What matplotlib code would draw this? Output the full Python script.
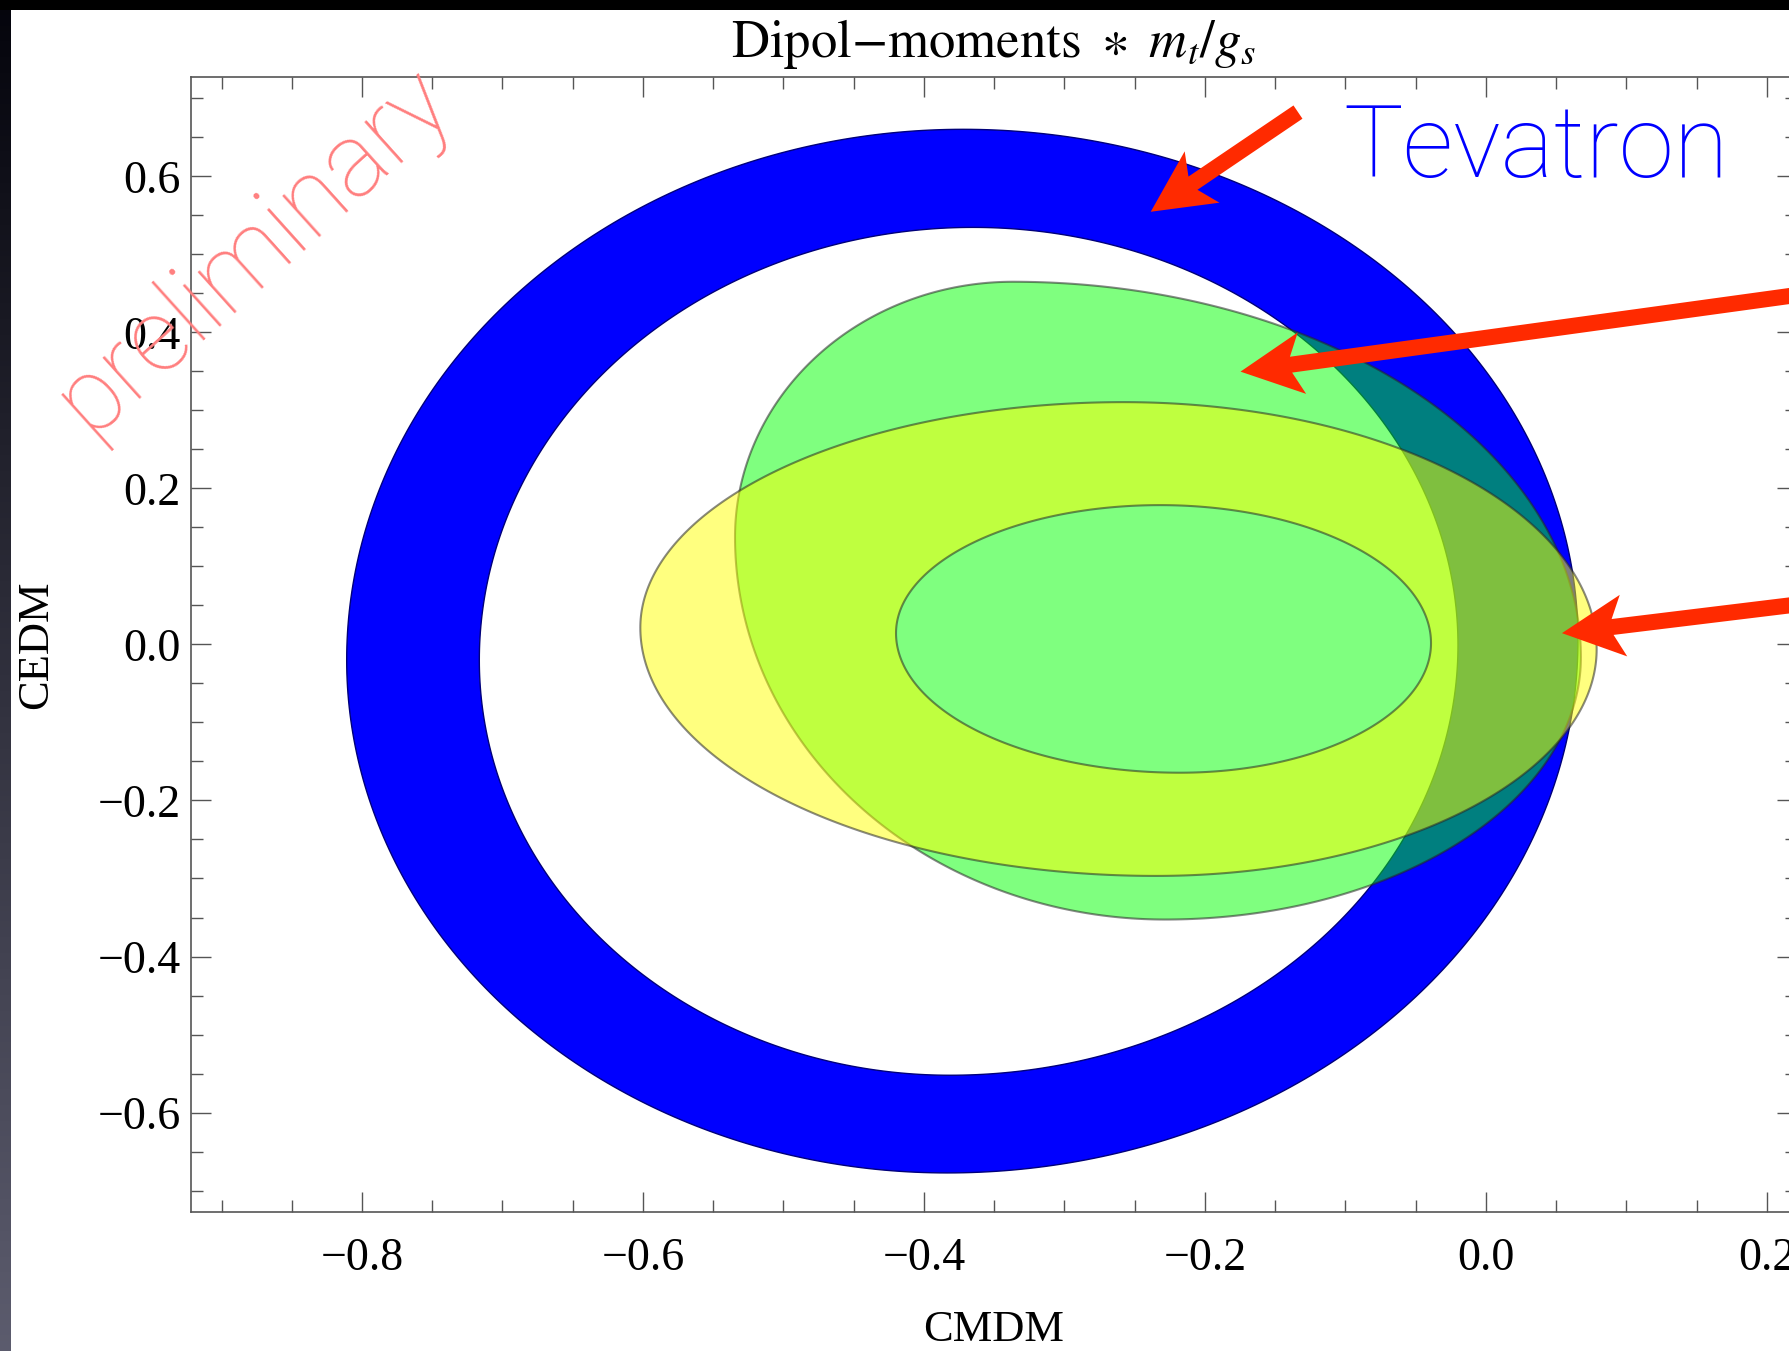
import numpy as np
import matplotlib
import matplotlib.pyplot as plt
from matplotlib.path import Path
from matplotlib.patches import PathPatch, Polygon, Rectangle
from matplotlib.transforms import IdentityTransform
from matplotlib.ticker import MultipleLocator, FuncFormatter

plt.rcParams['mathtext.fontset'] = 'stix'

# extreme points of every boundary, in the order right, top, left, bottom (CMDM, CEDM)
tev_outer = [(0.0655, 0.0055), (-0.3722, 0.6603), (-0.8109, -0.0201), (-0.3836, -0.6774)]
tev_inner = [(-0.0199, -0.0009), (-0.3651, 0.5346), (-0.7165, -0.0201), (-0.3815, -0.5522)]
green_band = [(0.0676, -0.0163), (-0.3367, 0.4649), (-0.5345, 0.1376), (-0.2285, -0.3526)]
yellow_outer = [(0.0788, -0.0060), (-0.2580, 0.3106), (-0.6019, 0.0215), (-0.2349, -0.2967)]
yellow_inner = [(-0.0391, 0.0017), (-0.2320, 0.1786), (-0.4199, 0.0145), (-0.2178, -0.1644)]

# arrows: (tip, tail) in data coordinates
arrow_tips = [(-0.2386, 0.5546), (-0.1747, 0.3497), (0.0541, 0.0145)]
arrow_tails = [(-0.1338, 0.6824), (0.2235, 0.4485), (0.2235, 0.0517)]

xlim = (-0.922, 0.2214)
ylim = (-0.728, 0.728)

W, H = 1790, 1351


def closed_curve(pts, n=120):
    # four elliptic quarter arcs joining the extreme points
    (xr, yr), (xt, yt), (xl, yl), (xb, yb) = pts
    t1 = np.linspace(0, np.pi / 2, n, endpoint=False)
    t2 = np.linspace(np.pi / 2, np.pi, n, endpoint=False)
    t3 = np.linspace(np.pi, 1.5 * np.pi, n, endpoint=False)
    t4 = np.linspace(1.5 * np.pi, 2 * np.pi, n, endpoint=False)
    x = np.concatenate([xt + (xr - xt) * np.cos(t1), xt + (xt - xl) * np.cos(t2),
                        xb + (xb - xl) * np.cos(t3), xb + (xr - xb) * np.cos(t4)])
    y = np.concatenate([yr + (yt - yr) * np.sin(t1), yl + (yt - yl) * np.sin(t2),
                        yl + (yl - yb) * np.sin(t3), yr + (yr - yb) * np.sin(t4)])
    return np.column_stack([x, y])


def region_path(outer, inner=None):
    loops = [closed_curve(outer)]
    if inner is not None:
        loops.append(closed_curve(inner)[::-1])
    verts, codes = [], []
    for lp in loops:
        verts.extend(lp)
        verts.append(lp[0])
        codes.extend([Path.MOVETO] + [Path.LINETO] * (len(lp) - 1) + [Path.CLOSEPOLY])
    return Path(np.array(verts), codes)


def red_arrow(fig, ax, tip, tail, color='#ff2a00'):
    p0 = ax.transData.transform(tip)
    p1 = ax.transData.transform(tail)
    u = (p1 - p0) / np.hypot(*(p1 - p0))
    nv = np.array([-u[1], u[0]])
    hw = 8.0
    pts = [p0,
           p0 + 62 * u + 31 * nv,
           p0 + 51 * u + hw * nv,
           p1 + hw * nv,
           p1 - hw * nv,
           p0 + 51 * u - hw * nv,
           p0 + 62 * u - 31 * nv]
    fig.add_artist(Polygon(pts, closed=True, transform=IdentityTransform(),
                           facecolor=color, edgecolor='none', zorder=5))


def tick_fmt(v, pos):
    if abs(v) < 1e-9:
        v = 0.0
    return f"{v:.1f}".replace('-', '\u2212')


fig = plt.figure(figsize=(W / 100, H / 100), dpi=100)
fig.patch.set_facecolor('white')

ax = fig.add_axes([190.6 / W, (H - 1212.4) / H, (1797 - 190.6) / W, (1212.4 - 76.5) / H])
ax.set_xlim(*xlim)
ax.set_ylim(*ylim)

edge = (0.15, 0.15, 0.15, 0.55)
ax.add_patch(PathPatch(region_path(tev_outer, tev_inner), facecolor=(0, 0, 1),
                       edgecolor='#00007a', lw=1.0, zorder=2))
ax.add_patch(PathPatch(region_path(green_band), facecolor=(0, 1, 0, 0.5),
                       edgecolor=edge, lw=1.5, zorder=3))
ax.add_patch(PathPatch(region_path(yellow_outer, yellow_inner), facecolor=(1, 1, 0, 0.5),
                       edgecolor=edge, lw=1.5, zorder=4))

ax.xaxis.set_major_locator(MultipleLocator(0.2))
ax.xaxis.set_minor_locator(MultipleLocator(0.05))
ax.yaxis.set_major_locator(MultipleLocator(0.2))
ax.yaxis.set_minor_locator(MultipleLocator(0.05))
ax.xaxis.set_major_formatter(FuncFormatter(tick_fmt))
ax.yaxis.set_major_formatter(FuncFormatter(tick_fmt))
ax.tick_params(which='both', direction='in', top=True, right=True,
               color='#555555', labelcolor='black', width=1.0)
ax.tick_params(which='major', length=14.4)
ax.tick_params(which='minor', length=8.6)
ax.tick_params(axis='x', pad=18)
ax.tick_params(axis='y', pad=7)
for lab in ax.get_xticklabels() + ax.get_yticklabels():
    lab.set_fontfamily('Liberation Serif')
    lab.set_fontsize(33)
for sp in ax.spines.values():
    sp.set_color('#555555')
    sp.set_linewidth(1.2)

cx = 993.8 / W
fig.text(cx, 1 - 57 / H, r'$\mathrm{Dipol}{-}\mathrm{moments}\ \ast\ m_t/g_s$',
         ha='center', va='baseline', fontsize=38)
fig.text(cx, 10 / H, 'CMDM', ha='center', va='baseline', fontsize=32,
         family='Liberation Serif')
fig.text(36.5 / W, 1 - 645 / H, 'CEDM', rotation=90, ha='center', va='center',
         fontsize=32, family='Liberation Serif')

fig.text(1343.7 / W, 1 - 177 / H, 'Tevatron', ha='left', va='baseline', fontsize=72,
         family=['Roboto', 'Lato'], fontweight='light', color='#0000ff', zorder=6)
fig.text(254 / W, 1 - 250 / H, 'preliminary', rotation=42, rotation_mode='anchor',
         ha='center', va='center', fontsize=74, family=['Roboto', 'Lato'],
         fontweight='light', color='#ff7f7f', zorder=6)

for tip, tail in zip(arrow_tips, arrow_tails):
    red_arrow(fig, ax, tip, tail)

# dark slide border on the top and left
fig.add_artist(Rectangle((0, 1 - 10 / H), 1, 10 / H, transform=fig.transFigure,
                         facecolor='black', edgecolor='none', zorder=10))
bg = fig.add_axes([0, 0, 10.5 / W, 1 - 10 / H])
grad = np.linspace(0, 1, 256)[:, None]
cols = np.stack([0.02 + 0.34 * grad, 0.02 + 0.34 * grad, 0.05 + 0.38 * grad], axis=-1)
bg.imshow(cols[::-1], aspect='auto', extent=[0, 1, 0, 1], origin='lower')
bg.set_axis_off()

fig.savefig('out.png', dpi=100)
